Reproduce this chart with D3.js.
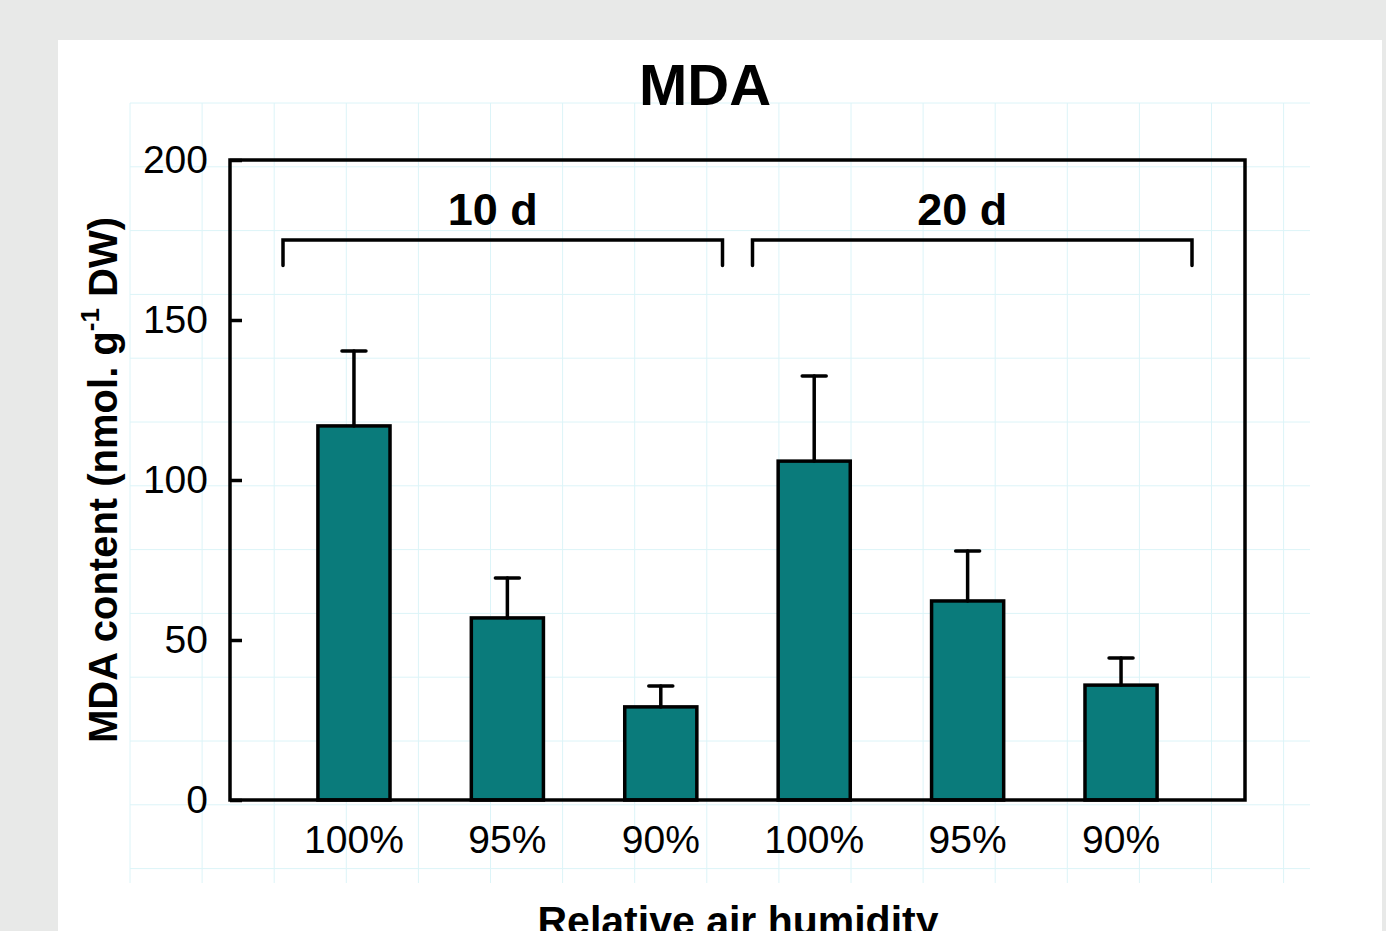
<!DOCTYPE html>
<html>
<head>
<meta charset="utf-8">
<script src="https://cdn.jsdelivr.net/npm/d3@7"></script>
<style>
  body { margin: 0; background: #e8e9e8; }
  svg { display: block; font-family: "Liberation Sans", Arial, sans-serif; }
</style>
</head>
<body>
<script>
var width = 1386, height = 931;

// chart values
var groups = ["10 d", "20 d"];
var humidity = ["100%", "95%", "90%"];
var mdaMeans = [[116.9, 56.9, 29.1], [105.9, 62.2, 35.9]];
var mdaErrors = [[23.4, 12.5, 6.5], [26.6, 15.6, 8.5]];
var yTicks = [0, 50, 100, 150, 200];

var data = [];
groups.forEach(function(g, gi) {
    humidity.forEach(function(h, hi) {
        data.push({ key: g + "|" + h, group: g, label: h, mean: mdaMeans[gi][hi], err: mdaErrors[gi][hi] });
    });
});

var plotLeft = 230, plotRight = 1245, plotTop = 160, plotBottom = 800;

var svg = d3.select("body").append("svg")
    .attr("width", width)
    .attr("height", height);

svg.append("rect")
    .attr("x", 0).attr("y", 0)
    .attr("width", width).attr("height", height)
    .attr("fill", "#e8e9e8");

// white panel
svg.append("rect")
    .attr("x", 58).attr("y", 40)
    .attr("width", 1324).attr("height", height - 40)
    .attr("fill", "#ffffff");

// faint background grid
var grid = svg.append("g").attr("stroke", "#dcf4f8").attr("stroke-width", 1);
d3.range(130, 1300, 72.1).forEach(function(gx) {
    grid.append("line").attr("x1", gx).attr("x2", gx).attr("y1", 103).attr("y2", 883);
});
d3.range(103, 880, 63.8).forEach(function(gy) {
    grid.append("line").attr("x1", 130).attr("x2", 1310).attr("y1", gy).attr("y2", gy);
});

var xScale = d3.scaleBand()
    .domain(data.map(function(d) { return d.key; }))
    .range([plotLeft, plotRight])
    .paddingInner(0.53)
    .paddingOuter(0.573);

var yScale = d3.scaleLinear()
    .domain([0, 200])
    .range([plotBottom, plotTop]);

// bars
svg.selectAll(".bar")
    .data(data)
    .enter().append("rect")
    .attr("class", "bar")
    .attr("x", function(d) { return xScale(d.key); })
    .attr("y", function(d) { return yScale(d.mean); })
    .attr("width", xScale.bandwidth())
    .attr("height", function(d) { return yScale(0) - yScale(d.mean); })
    .attr("fill", "#0a7b7b")
    .attr("stroke", "#000")
    .attr("stroke-width", 3.5);

// error bars
var errs = svg.selectAll(".err")
    .data(data)
    .enter().append("g")
    .attr("class", "err")
    .attr("stroke", "#000")
    .attr("stroke-width", 3.5)
    .attr("stroke-linecap", "round");

errs.append("line")
    .attr("x1", function(d) { return xScale(d.key) + xScale.bandwidth() / 2; })
    .attr("x2", function(d) { return xScale(d.key) + xScale.bandwidth() / 2; })
    .attr("y1", function(d) { return yScale(d.mean); })
    .attr("y2", function(d) { return yScale(d.mean + d.err); });

errs.append("line")
    .attr("x1", function(d) { return xScale(d.key) + xScale.bandwidth() / 2 - 12; })
    .attr("x2", function(d) { return xScale(d.key) + xScale.bandwidth() / 2 + 12; })
    .attr("y1", function(d) { return yScale(d.mean + d.err); })
    .attr("y2", function(d) { return yScale(d.mean + d.err); });

// frame
svg.append("rect")
    .attr("x", plotLeft).attr("y", plotTop)
    .attr("width", plotRight - plotLeft).attr("height", plotBottom - plotTop)
    .attr("fill", "none")
    .attr("stroke", "#000")
    .attr("stroke-width", 3.5);

// y axis
var yAxis = d3.axisLeft(yScale)
    .tickValues(yTicks)
    .tickSizeInner(-12)
    .tickSizeOuter(0)
    .tickPadding(22);

var yG = svg.append("g")
    .attr("transform", "translate(" + plotLeft + ",0)")
    .call(yAxis);
yG.select(".domain").remove();
yG.selectAll(".tick line").attr("stroke", "#000").attr("stroke-width", 3.5);
yG.selectAll(".tick text")
    .attr("fill", "#000")
    .style("font-size", "39px")
    .style("font-family", "Liberation Sans, Arial, sans-serif");

// x axis labels
var xAxis = d3.axisBottom(xScale)
    .tickSize(0)
    .tickPadding(25)
    .tickFormat(function(k) { return k.split("|")[1]; });

var xG = svg.append("g")
    .attr("transform", "translate(0," + plotBottom + ")")
    .call(xAxis);
xG.select(".domain").remove();
xG.selectAll(".tick text")
    .attr("fill", "#000")
    .style("font-size", "39px")
    .style("font-family", "Liberation Sans, Arial, sans-serif");

// group brackets: each spans one half of the plot
var half = (plotRight - plotLeft) / 2;
groups.forEach(function(g, gi) {
    var x0 = plotLeft + gi * half + (gi === 0 ? 53 : 15);
    var x1 = plotLeft + (gi + 1) * half - (gi === 0 ? 15 : 53);
    var yTop = yScale(175), yLow = yScale(167);
    svg.append("path")
        .attr("d", "M" + x0 + "," + yLow + "V" + yTop + "H" + x1 + "V" + yLow)
        .attr("fill", "none")
        .attr("stroke", "#000")
        .attr("stroke-width", 3.5)
        .attr("stroke-linecap", "round");
    svg.append("text")
        .attr("x", (x0 + x1) / 2 - 10)
        .attr("y", yScale(179.8))
        .attr("text-anchor", "middle")
        .style("font-size", "45px")
        .style("font-weight", "bold")
        .text(g);
});

// title
svg.append("text")
    .attr("x", 705)
    .attr("y", 105)
    .attr("text-anchor", "middle")
    .style("font-size", "58px")
    .style("font-weight", "bold")
    .text("MDA");

// y axis title
var yt = svg.append("text")
    .attr("transform", "translate(117," + ((plotTop + plotBottom) / 2) + ") rotate(-90)")
    .attr("text-anchor", "middle")
    .style("font-size", "40px")
    .style("font-weight", "bold");
yt.append("tspan").text("MDA content (nmol. g");
yt.append("tspan").attr("dy", -18).style("font-size", "26px").text("-1");
yt.append("tspan").attr("dy", 18).text(" DW)");

// x axis title
svg.append("text")
    .attr("x", 738)
    .attr("y", 935)
    .attr("text-anchor", "middle")
    .style("font-size", "41px")
    .style("font-weight", "bold")
    .text("Relative air humidity");
</script>
</body>
</html>
